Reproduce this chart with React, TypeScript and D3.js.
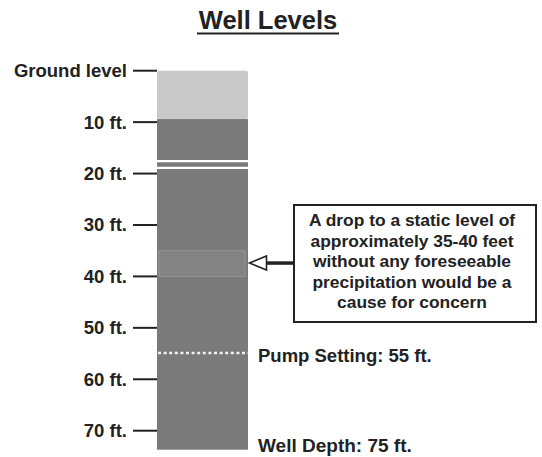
import React from "react";
import * as d3 from "d3";

const title = "Well Levels";
const tickDepths = [0, 10, 20, 30, 40, 50, 60, 70];
const tickLabels = ["Ground level", "10 ft.", "20 ft.", "30 ft.", "40 ft.", "50 ft.", "60 ft.", "70 ft."];
const layerNames = ["Dry zone", "Water column"];
const layerTop = [0, 9.4];
const layerBottom = [9.4, 73.7];
const casingMarks = [17.6, 18.9];
const concernRange = [35, 40];
const pumpSetting = 55;
const wellDepth = 75;
const calloutLines = [
  "A drop to a static level of",
  "approximately 35-40 feet",
  "without any foreseeable",
  "precipitation would be a",
  "cause for concern",
];

const W = 542;
const H = 457;
const FONT = "'Liberation Sans', Arial, Helvetica, sans-serif";
const INK = "#222";

export default function App() {
  const y = d3.scaleLinear().domain([0, 70]).range([70.7, 430.7]);
  const x = d3.scaleLinear().domain([0, 1]).range([157, 248]);
  const layerColors = ["#c9c9c9", "#7a7a7a"];
  const midConcern = (concernRange[0] + concernRange[1]) / 2;
  const ay = y(midConcern) - 0.5;
  const boxX = 294, boxY = 205, boxW = 242, boxH = 117;
  const textCx = 412;

  return (
    <svg width={W} height={H} style={{ position: "absolute", left: 0, top: 0, background: "#fff" }}>
      <text x={268} y={29} textAnchor="middle" fontFamily={FONT} fontWeight="bold" fontSize={25.5} fill={INK}>
        {title}
      </text>
      <line x1={197} x2={339} y1={33.5} y2={33.5} stroke={INK} strokeWidth={2} />

      {layerNames.map((n, i) => (
        <rect
          key={n}
          x={x(0)}
          y={y(layerTop[i])}
          width={x(1) - x(0)}
          height={y(layerBottom[i]) - y(layerTop[i])}
          fill={layerColors[i]}
          rx={i === 0 ? 2 : 0}
        />
      ))}
      {casingMarks.map((d) => (
        <line key={d} x1={x(0)} x2={x(1)} y1={y(d)} y2={y(d)} stroke="#fff" strokeWidth={2.2} />
      ))}
      <rect
        x={x(0) + 2}
        y={y(concernRange[0])}
        width={x(1) - x(0) - 5}
        height={y(concernRange[1]) - y(concernRange[0])}
        fill="#838383"
        stroke="#959595"
        strokeWidth={1}
      />
      <line
        x1={x(0) + 1}
        x2={x(1)}
        y1={y(pumpSetting) - 0.5}
        y2={y(pumpSetting) - 0.5}
        stroke="#f2f2f2"
        strokeWidth={2.5}
        strokeDasharray="3,2.6"
      />

      {tickDepths.map((d, i) => (
        <g key={d}>
          <line x1={133} x2={x(0)} y1={y(d)} y2={y(d)} stroke={INK} strokeWidth={2} />
          <text
            x={127}
            y={y(d) + 6.5}
            textAnchor="end"
            fontFamily={FONT}
            fontWeight="bold"
            fontSize={18.5}
            fill={INK}
          >
            {tickLabels[i]}
          </text>
        </g>
      ))}

      <text x={258} y={y(pumpSetting) + 8.8} fontFamily={FONT} fontWeight="bold" fontSize={18.5} fill={INK}>
        {`Pump Setting: ${pumpSetting} ft.`}
      </text>
      <text x={258} y={y(wellDepth) - 4.5} fontFamily={FONT} fontWeight="bold" fontSize={19} fill={INK}>
        {`Well Depth: ${wellDepth} ft.`}
      </text>

      <line x1={266} x2={boxX} y1={ay} y2={ay} stroke={INK} strokeWidth={3.5} />
      <path
        d={`M${x(1) + 1.5},${ay} L${266.5},${ay - 7} L${266.5},${ay + 7} Z`}
        fill="#fff"
        stroke={INK}
        strokeWidth={1.6}
        strokeLinejoin="miter"
      />
      <rect x={boxX} y={boxY} width={boxW} height={boxH} fill="#fff" stroke={INK} strokeWidth={2} />
      {calloutLines.map((t, i) => (
        <text
          key={i}
          x={textCx}
          y={226 + i * 20.6}
          textAnchor="middle"
          fontFamily={FONT}
          fontWeight="bold"
          fontSize={17.4}
          fill={INK}
        >
          {t}
        </text>
      ))}
    </svg>
  );
}
